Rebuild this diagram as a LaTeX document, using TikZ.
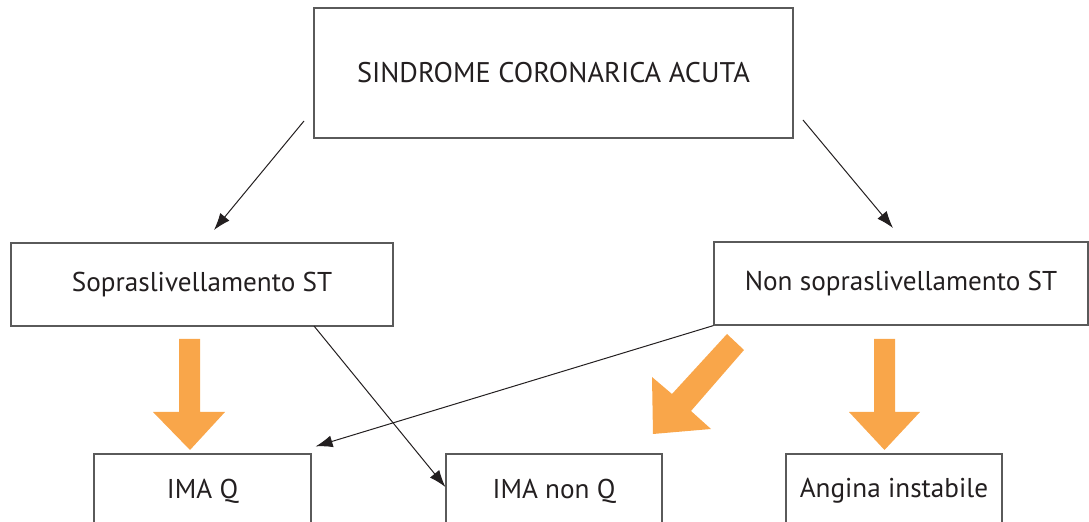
\documentclass[tikz,border=0pt]{standalone}
\usepackage{fontspec}
\setmainfont{PT Sans}
\usetikzlibrary{arrows.meta,calc}
\definecolor{txt}{RGB}{35,31,32}
\definecolor{boxc}{RGB}{90,90,90}
\definecolor{orng}{RGB}{249,166,74}
\tikzset{
  box/.style={draw=boxc,line width=0.6pt,text=txt,inner sep=0pt,anchor=center},
  blk/.style={draw=txt,line width=0.5pt,-{Latex[length=8.5pt,width=6pt]}},
  big/.style={font=\fontsize{14.2}{16}\selectfont},
  norm/.style={font=\fontsize{13.6}{15}\selectfont},
  orarrow/.style={fill=orng,draw=none}
}
\begin{document}
\begin{tikzpicture}[x=0.5pt,y=-0.5pt]
\useasboundingbox (0,0) rectangle (1089,522);
\clip (0,0) rectangle (1089,522);
% boxes
\node[box,big,minimum width=239.5pt,minimum height=65pt] (top) at (553.5,73) {SINDROME CORONARICA ACUTA};
\node[box,norm,minimum width=191pt,minimum height=41.5pt] (left) at (202,284.5) {Sopraslivellamento ST};
\node[box,norm,minimum width=187pt,minimum height=41.5pt] (right) at (901,283.5) {Non sopraslivellamento ST};
\node[box,norm,minimum width=108.5pt,minimum height=37pt] (imaq) at (202.5,491) {IMA Q};
\node[box,norm,minimum width=108pt,minimum height=37pt] (imanq) at (554,491) {IMA non Q};
\node[box,norm,minimum width=108pt,minimum height=37pt] (angina) at (894,491) {Angina instabile};
% free ends
\coordinate (s1) at (304,121);
\coordinate (e1) at (214,230);
\coordinate (s2) at (803,120);
\coordinate (e2) at (893,228);
\coordinate (s3) at (314,326);
% black connectors
\draw[blk] (s1) -- (e1);
\draw[blk] (s2) -- (e2);
\draw[blk] (s3) -- ([yshift=2pt]imanq.west);
\draw[blk] (right.south west) -- ([xshift=2pt,yshift=3.5pt]imaq.north east);
% orange block arrows
\fill[orarrow] (179,339) -- (200,339) -- (200,412) -- (225,412) -- (190,450) -- (153,412) -- (179,412) -- cycle;
\fill[orarrow] (874,339) -- (895,339) -- (895,412) -- (920,412) -- (884.5,450) -- (849,412) -- (874,412) -- cycle;
\fill[orarrow] (727,334) -- (744,350) -- (691,411) -- (711,429) -- (653,434) -- (652,377) -- (672,394) -- cycle;
\end{tikzpicture}
\end{document}
